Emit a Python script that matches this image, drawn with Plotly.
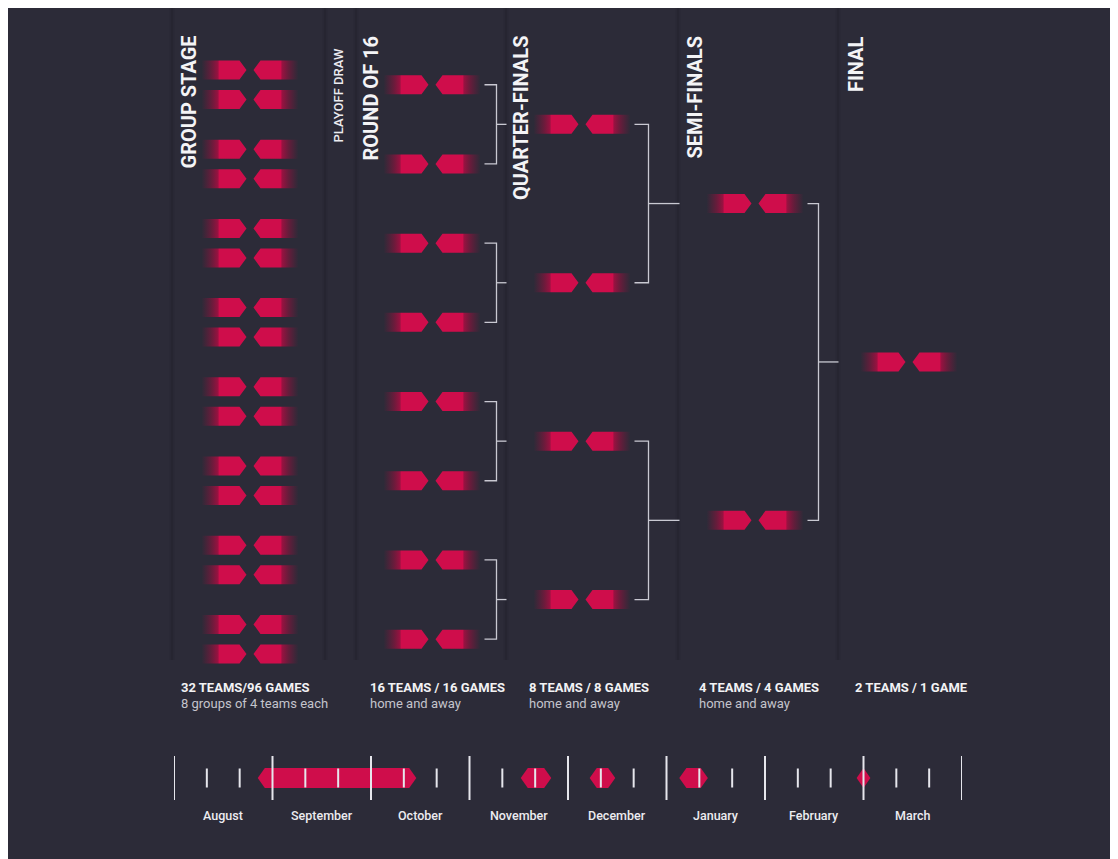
import plotly.graph_objects as go

# ---------------- data ----------------
stage_titles = ["GROUP STAGE", "ROUND OF 16", "QUARTER-FINALS", "SEMI-FINALS", "FINAL"]
draw_title = "PLAYOFF DRAW"
groups = 8
rows_per_group = 2
caption_main = ["32 TEAMS/96 GAMES", "16 TEAMS / 16 GAMES", "8 TEAMS / 8 GAMES",
                "4 TEAMS / 4 GAMES", "2 TEAMS / 1 GAME"]
caption_sub = ["8 groups of 4 teams each", "home and away", "home and away",
               "home and away", ""]
months = ["August", "September", "October", "November", "December",
          "January", "February", "March"]
periods_per_month = 3
# stage windows on the timeline, in months since 1 August
stage_start = [0.85, 3.52, 4.22, 5.13, 6.93]
stage_end = [2.46, 3.83, 4.48, 5.42, 7.07]

# ---------------- layout / style constants ----------------
W, H = 1118, 859          # browser window
OFF = 8                   # page body margin
BG = "#2c2b38"
RED = "rgb(207,13,75)"
LINE = "#c9c9d2"
FONT = "Roboto"
col_center = [250, 432, 582, 755, 909]
title_x = [188, 370, 521, 694, 856]
draw_x = 338
caption_x = [179, 368, 527, 697, 853]
panel_edges = [172, 325, 356, 506, 678, 838]
first_row_y = 70
row_gap = 29.5
group_pitch = 79.2
mark_len, tip_len, mark_h, tip_gap = 45, 7, 19, 3.5
conn_pad = 4
conn_vx = [None, 16, 18, 15, None]
conn_out = [None, 10, 31, 20, None]
tl_y, tl_h, tl_tip = 778, 20, 0.072
tl_x0, tl_x1 = 174, 962

# ---------------- row positions (bracket) ----------------
stage_rows = []
rows = [first_row_y + g * group_pitch + r * row_gap
        for g in range(groups) for r in range(rows_per_group)]
stage_rows.append(rows)
while len(rows) > 1:
    rows = [(rows[i] + rows[i + 1]) / 2 for i in range(0, len(rows), 2)]
    stage_rows.append(rows)

fig = go.Figure()

shapes = []
for ex in panel_edges:
    shapes.append(dict(type="line", xref="x", yref="y", x0=ex, x1=ex, y0=OFF, y1=660,
                       line=dict(color="rgba(0,0,0,0.05)", width=5), layer="below"))
    shapes.append(dict(type="line", xref="x", yref="y", x0=ex, x1=ex, y0=OFF, y1=660,
                       line=dict(color="rgba(0,0,0,0.08)", width=1.5), layer="below"))

left_scale = [[0, "rgba(150,14,60,0)"], [0.22, "rgba(160,14,62,0.5)"],
              [0.36, "rgba(170,14,66,0.85)"], [0.40, RED], [1, RED]]
right_scale = [[0, RED], [0.60, RED], [0.64, "rgba(170,14,66,0.85)"],
               [0.78, "rgba(160,14,62,0.5)"], [1, "rgba(150,14,60,0)"]]

# match marks
for s, rows in enumerate(stage_rows):
    c = col_center[s]
    lx, ly, rx, ry = [], [], [], []
    for y in rows:
        a = c - tip_gap
        o = a - mark_len
        lx += [o, a - tip_len, a, a - tip_len, o, o, None]
        ly += [y - mark_h / 2, y - mark_h / 2, y, y + mark_h / 2, y + mark_h / 2, y - mark_h / 2, None]
        b = c + tip_gap
        o2 = b + mark_len
        rx += [o2, b + tip_len, b, b + tip_len, o2, o2, None]
        ry += [y - mark_h / 2, y - mark_h / 2, y, y + mark_h / 2, y + mark_h / 2, y - mark_h / 2, None]
    fig.add_trace(go.Scatter(x=lx, y=ly, mode="lines", fill="toself", line_width=0,
                             fillgradient=dict(type="horizontal", colorscale=left_scale,
                                               start=c - tip_gap - mark_len, stop=c - tip_gap),
                             hoverinfo="skip", showlegend=False))
    fig.add_trace(go.Scatter(x=rx, y=ry, mode="lines", fill="toself", line_width=0,
                             fillgradient=dict(type="horizontal", colorscale=right_scale,
                                               start=c + tip_gap, stop=c + tip_gap + mark_len),
                             hoverinfo="skip", showlegend=False))

    # connectors
    if conn_vx[s] is not None:
        end = c + tip_gap + mark_len
        vx = end + conn_vx[s]
        cx, cy = [], []
        for i in range(0, len(rows), 2):
            y1, y2 = rows[i], rows[i + 1]
            cx += [end + conn_pad, vx, vx, end + conn_pad, None, vx, vx + conn_out[s], None]
            cy += [y1, y1, y2, y2, None, (y1 + y2) / 2, (y1 + y2) / 2, None]
        fig.add_trace(go.Scatter(x=cx, y=cy, mode="lines", line=dict(color=LINE, width=1.3),
                                 hoverinfo="skip", showlegend=False))

# timeline bars
for s0, s1 in zip(stage_start, stage_end):
    t = min(tl_tip, (s1 - s0) / 2)
    fig.add_trace(go.Scatter(
        x=[s0, s0 + t, s1 - t, s1, s1 - t, s0 + t, s0],
        y=[tl_y, tl_y - tl_h / 2, tl_y - tl_h / 2, tl_y, tl_y + tl_h / 2, tl_y + tl_h / 2, tl_y],
        mode="lines", fill="toself", fillcolor=RED, line_width=0,
        xaxis="x2", hoverinfo="skip", showlegend=False))

# timeline ticks
mx, my, nx, ny = [], [], [], []
for m in range(len(months) + 1):
    mx += [m, m, None]
    my += [756, 800, None]
    if m < len(months):
        for p in range(1, periods_per_month):
            v = m + p / periods_per_month
            nx += [v, v, None]
            ny += [768.5, 787.5, None]
fig.add_trace(go.Scatter(x=mx, y=my, mode="lines", line=dict(color="#e6e6ec", width=2),
                         xaxis="x2", hoverinfo="skip", showlegend=False))
fig.add_trace(go.Scatter(x=nx, y=ny, mode="lines", line=dict(color="#e6e6ec", width=2),
                         xaxis="x2", hoverinfo="skip", showlegend=False))

annotations = []
for i, name in enumerate(months):
    annotations.append(dict(x=i + 0.5, y=815, xref="x2", yref="y", text=name, showarrow=False,
                            font=dict(family=FONT, size=12.5, color="#ececf0", weight=500),
                            xanchor="center", yanchor="middle"))

for s, t in enumerate(stage_titles):
    annotations.append(dict(x=title_x[s], y=34, xref="x", yref="y", text=t, showarrow=False,
                            textangle=-90, font=dict(family=FONT, size=20, color="#f4f4f6", weight=700),
                            xanchor="center", yanchor="top"))
annotations.append(dict(x=draw_x, y=46, xref="x", yref="y", text=draw_title, showarrow=False,
                        textangle=-90, font=dict(family=FONT, size=13, color="#ececf0", weight=500),
                        xanchor="center", yanchor="top"))

for s in range(len(stage_titles)):
    annotations.append(dict(x=caption_x[s], y=687, xref="x", yref="y", text=caption_main[s],
                            showarrow=False, font=dict(family=FONT, size=13, color="#f2f2f4", weight=700),
                            xanchor="left", yanchor="middle"))
    if caption_sub[s]:
        annotations.append(dict(x=caption_x[s], y=703, xref="x", yref="y", text=caption_sub[s],
                                showarrow=False, font=dict(family=FONT, size=13, color="#c4c4cc"),
                                xanchor="left", yanchor="middle"))

fw, fh = W - OFF, H - OFF
fig.update_layout(
    width=fw, height=fh, margin=dict(l=0, r=0, t=0, b=0),
    paper_bgcolor=BG, plot_bgcolor="rgba(0,0,0,0)",
    xaxis=dict(range=[OFF, W], visible=False, fixedrange=True, domain=[0, 1]),
    xaxis2=dict(range=[0, len(months)], visible=False, fixedrange=True,
                domain=[(tl_x0 - OFF) / fw, (tl_x1 - OFF) / fw], anchor="y"),
    yaxis=dict(range=[H, OFF], visible=False, fixedrange=True),
    shapes=shapes, annotations=annotations, showlegend=False,
)

fig.write_html("out.html", config={"displayModeBar": False})
